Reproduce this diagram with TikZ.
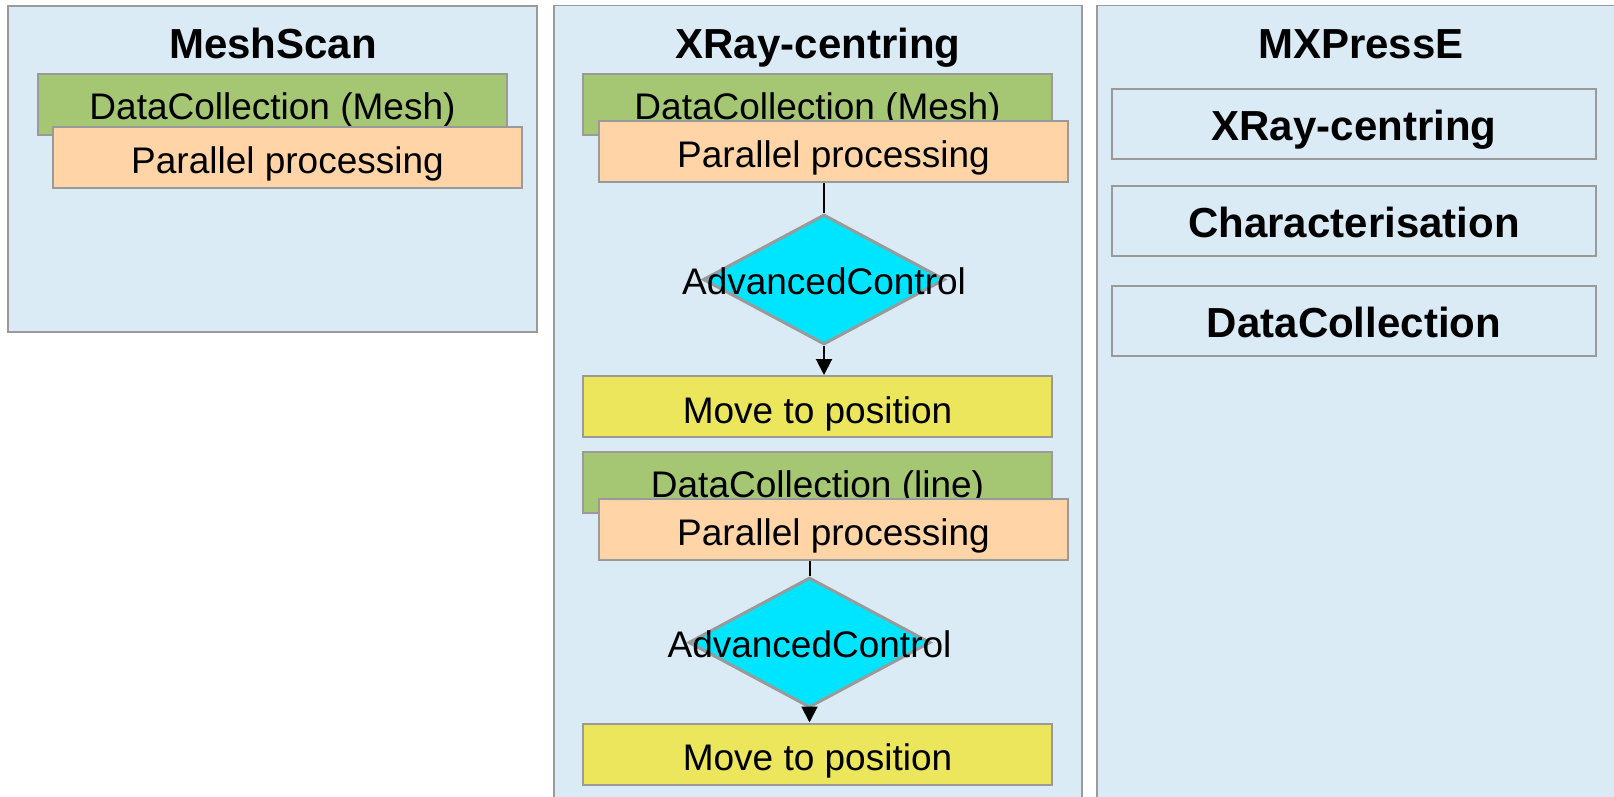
\documentclass[tikz,border=0pt]{standalone}
\usepackage{fontspec}
\setmainfont{Liberation Sans}
\usetikzlibrary{shapes.geometric,arrows.meta}
\definecolor{bgblue}{HTML}{DAEBF6}
\definecolor{edgegray}{HTML}{9A9A9A}
\definecolor{dcgreen}{HTML}{A5C673}
\definecolor{pporange}{HTML}{FFD5A8}
\definecolor{mvyellow}{HTML}{EBE65B}
\definecolor{accyan}{HTML}{00E5FF}
\begin{document}
\begin{tikzpicture}[x=1pt,y=-1pt,
  panel/.style={draw=edgegray, fill=bgblue, line width=1.8pt},
  ttl/.style={font=\fontsize{42}{46}\selectfont\bfseries, text height=30pt, text depth=0pt, inner sep=0pt},
  box/.style={draw=edgegray, line width=2pt, inner sep=0pt, text height=30pt, text depth=0pt, minimum width=469pt, minimum height=61pt, font=\fontsize{37}{40}\selectfont},
  dcbox/.style={box, fill=dcgreen},
  ppbox/.style={box, fill=pporange, text height=32pt},
  mvbox/.style={box, fill=mvyellow, text height=33pt},
  decbox/.style={diamond, draw=edgegray, line width=3pt, fill=accyan, inner sep=0pt, minimum width=242pt, minimum height=130pt, text height=30pt, text depth=0pt, font=\fontsize{37}{40}\selectfont},
  subbox/.style={draw=edgegray, line width=1.8pt, fill=bgblue, minimum width=484pt, minimum height=70pt, inner sep=0pt, text height=33pt, text depth=0pt, font=\fontsize{42}{46}\selectfont\bfseries},
  flow/.style={line width=2pt, black},
  arr/.style={flow, -{Triangle[width=16pt,length=16pt]}}
]
\clip (0,0) rectangle (1614,796);
\fill[white] (0,0) rectangle (1614,796);

% panels
\path[panel] (8,6) rectangle (537,332);
\path[panel] (554,5.5) rectangle (1082,830);
\path[panel] (1097,5.5) rectangle (1640,830);

% titles
\node[ttl] (t1) at (273,43) {MeshScan};
\node[ttl] (t2) at (818,43) {XRay-centring};
\node[ttl] (t3) at (1361,43) {MXPressE};

% MeshScan
\node[dcbox] (m1) at (272.5,104.5) {DataCollection (Mesh)};
\node[ppbox] (m2) at (287.5,157.5) {Parallel processing};

% XRay-centring
\node[dcbox] (x1) at (817.5,104.5) {DataCollection (Mesh)};
\node[ppbox] (x2) at (833.5,151.5) {Parallel processing};
\node[decbox] (x3) at (824,279.5) {\makebox[0pt]{AdvancedControl}};
\node[mvbox] (x4) at (817.5,406.5) {Move to position};
\node[dcbox] (x5) at (817.5,482) {DataCollection (line)};
\node[ppbox] (x6) at (833.5,529.5) {Parallel processing};
\node[decbox] (x7) at (809.5,642.5) {\makebox[0pt]{AdvancedControl}};
\node[mvbox] (x8) at (817.5,754) {Move to position};

\draw[flow] (x2.south -| x3.north) -- (x3.north);
\draw[arr] (x3.south) -- (x4.north -| x3.south);
\draw[flow] (x6.south -| x7.north) -- (x7.north);
\draw[arr] (x7.south) -- (x8.north -| x7.south);

% MXPressE
\node[subbox] (p1) at (1354,124) {XRay-centring};
\node[subbox] (p2) at (1354,221) {Characterisation};
\node[subbox] (p3) at (1354,321) {DataCollection};
\end{tikzpicture}
\end{document}
